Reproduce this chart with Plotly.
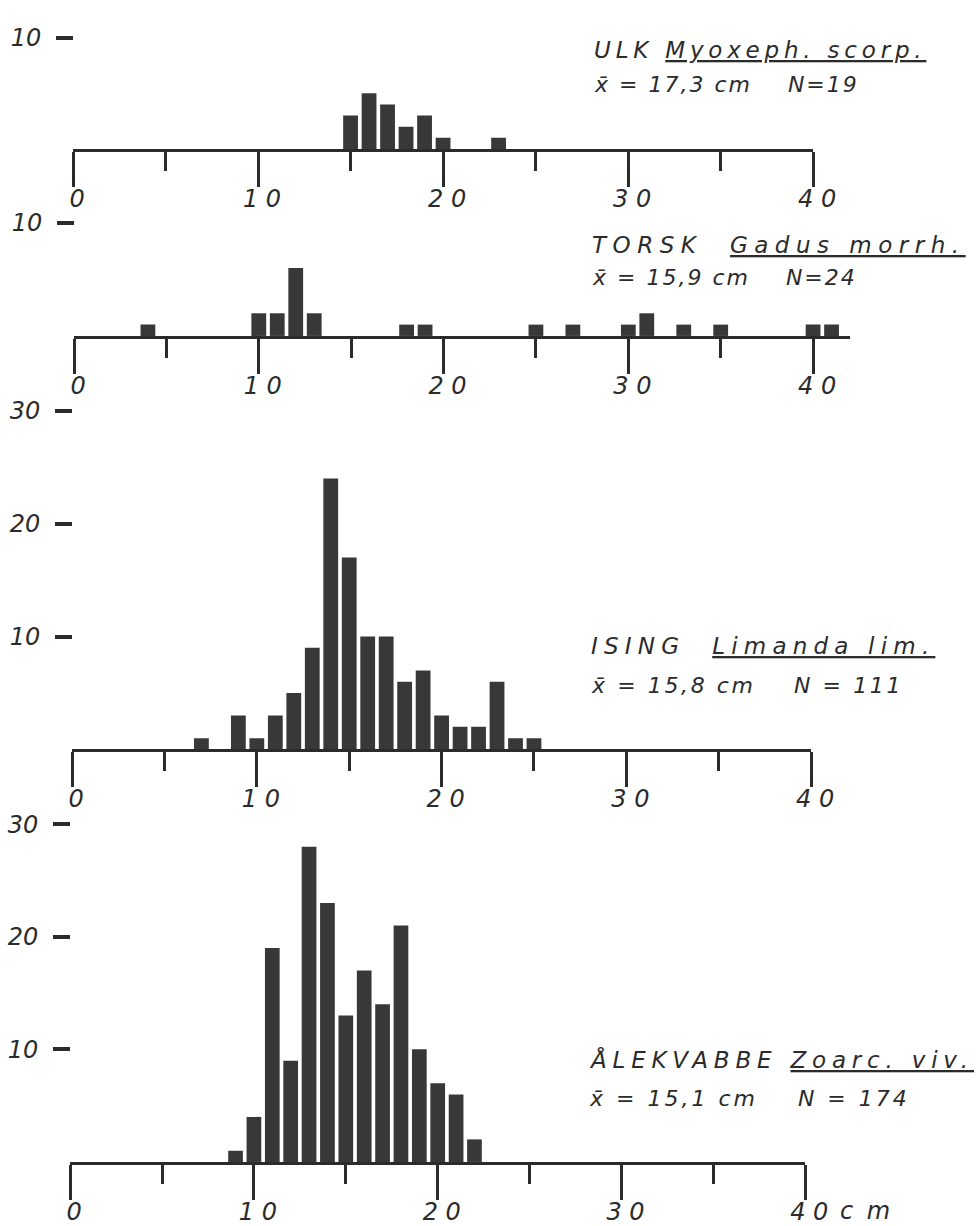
import plotly.graph_objects as go

W, H = 980, 1226

# Length classes (cm) and counts per species
ulk_len = [15, 16, 17, 18, 19, 20, 23]
ulk_n = [3, 5, 4, 2, 3, 1, 1]

torsk_len = [4, 10, 11, 12, 13, 18, 19, 25, 27, 30, 31, 33, 35, 40, 41]
torsk_n = [1, 2, 2, 6, 2, 1, 1, 1, 1, 1, 2, 1, 1, 1, 1]

ising_len = [7, 9, 10, 11, 12, 13, 14, 15, 16, 17, 18, 19, 20, 21, 22, 23, 24, 25]
ising_n = [1, 3, 1, 3, 5, 9, 24, 17, 10, 10, 6, 7, 3, 2, 2, 6, 1, 1]

alek_len = [9, 10, 11, 12, 13, 14, 15, 16, 17, 18, 19, 20, 21, 22]
alek_n = [1, 4, 19, 9, 28, 23, 13, 17, 14, 21, 10, 7, 6, 2]

x_major = [0, 10, 20, 30, 40]
x_major_text = ["0", "1 0", "2 0", "3 0", "4 0"]
x_minor = [5, 15, 25, 35]

names = [
    ("ULK", "Myoxeph. scorp.", " "),
    ("TORSK", "Gadus morrh.", "  "),
    ("ISING", "Limanda lim.", "  "),
    ("ÅLEKVABBE", "Zoarc. viv.", " "),
]
stats = [
    "x\u0304 = 17,3 cm    N=19",
    "x\u0304 = 15,9 cm    N=24",
    "x\u0304 = 15,8 cm    N = 111",
    "x\u0304 = 15,1 cm    N = 174",
]

series = [
    (ulk_len, ulk_n),
    (torsk_len, torsk_n),
    (ising_len, ising_n),
    (alek_len, alek_n),
]

# panel geometry in pixels: x of 0 cm and 40 cm, axis range max,
# baseline y, y of the top tick, top tick value, label positions
panels = [
    dict(x0=71, x40=832, xmax=40, base=137, top=24, ymax=10, yt=[10],
         tx=605, ty=37, sy=72, ls=4.8, ss=2.0),
    dict(x0=72, x40=832, xmax=42, base=327, top=212, ymax=10, yt=[10],
         tx=603, ty=235, sy=268, ls=6.5, ss=2.0),
    dict(x0=70, x40=830, xmax=40, base=747, top=403, ymax=30, yt=[10, 20, 30],
         tx=602, ty=642, sy=682, ls=6.2, ss=2.6),
    dict(x0=68, x40=824, xmax=40, base=1166, top=823, ymax=30, yt=[10, 20, 30],
         tx=600, ty=1062, sy=1102, ls=5.8, ss=3.0),
]

INK = "#2b2b2b"
BAR = "#383838"
FONT = dict(family="DejaVu Sans", size=24, color=INK, style="italic")

fig = go.Figure()
layout = dict(
    width=W, height=H,
    margin=dict(l=0, r=0, t=0, b=0),
    paper_bgcolor="white", plot_bgcolor="white",
    showlegend=False,
    annotations=[],
)

for i, (p, (lens, counts)) in enumerate(zip(panels, series)):
    k = "" if i == 0 else str(i + 1)
    xa, ya = "x" + k, "y" + k
    fig.add_trace(go.Bar(
        x=lens, y=counts, xaxis=xa, yaxis=ya, width=0.8,
        marker=dict(color=BAR, line=dict(width=0)),
    ))
    px_cm = (p["x40"] - p["x0"]) / 40
    x_end = p["x0"] + p["xmax"] * px_cm
    layout["xaxis" + k] = dict(
        domain=[p["x0"] / W, x_end / W],
        range=[0, p["xmax"]], anchor=ya,
        showgrid=False, zeroline=False,
        showline=True, linecolor=INK, linewidth=3,
        ticks="outside", ticklen=35, tickwidth=2.5, tickcolor=INK,
        tickvals=x_major, ticktext=x_major_text,
        ticklabelshift=4, ticklabelstandoff=-9,
        tickfont=FONT,
        minor=dict(tickvals=x_minor, ticks="outside", ticklen=19,
                   tickwidth=2.5, tickcolor=INK),
    )
    layout["yaxis" + k] = dict(
        domain=[1 - p["base"] / H, 1 - p["top"] / H],
        range=[0, p["ymax"]], anchor="free", position=p["x0"] / W,
        showgrid=False, zeroline=False, showline=False,
        ticks="outside", ticklen=17, tickwidth=3.5, tickcolor=INK,
        ticklabelstandoff=10,
        tickvals=p["yt"], tickfont=FONT,
    )
    common, latin, gap = names[i]
    title = (f'<span style="letter-spacing:{p["ls"]}px">{common}{gap}'
             f'<u>{latin}</u></span>')
    layout["annotations"].append(dict(
        xref="paper", yref="paper", x=p["tx"] / W, y=1 - p["ty"] / H,
        xanchor="left", yanchor="middle", showarrow=False,
        text=title, font=dict(FONT, size=23),
    ))
    layout["annotations"].append(dict(
        xref="paper", yref="paper", x=p["tx"] / W, y=1 - p["sy"] / H,
        xanchor="left", yanchor="middle", showarrow=False,
        text=f'<span style="letter-spacing:{p["ss"]}px">{stats[i]}</span>',
        font=dict(FONT, size=22),
    ))

# unit label after the last tick of the bottom panel
layout["annotations"].append(dict(
    xref="paper", yref="paper", x=858 / W, y=1 - 1216 / H,
    xanchor="left", yanchor="middle", showarrow=False,
    text='<span style="letter-spacing:3px">c m</span>', font=FONT,
))

fig.update_layout(**layout)
fig.write_html("out.html")
